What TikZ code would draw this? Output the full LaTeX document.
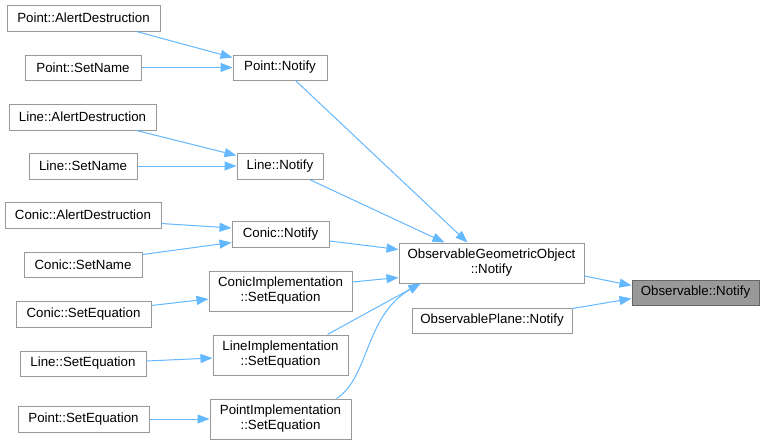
\documentclass[tikz,border=0pt]{standalone}
\usepackage{fontspec}
\setmainfont{Liberation Sans}
\usetikzlibrary{arrows.meta,calc}
\definecolor{edgec}{HTML}{63B8FF}
\definecolor{bord}{HTML}{999999}
\definecolor{hbord}{HTML}{666666}
\definecolor{hfill}{HTML}{999999}
\begin{document}
\begin{tikzpicture}[x=1pt,y=-1pt,
 box/.style={draw=bord, line width=1pt, fill=white, inner sep=0pt, align=center,
   font=\fontsize{13.3}{15}\selectfont},
 hbox/.style={box, draw=hbord, fill=hfill},
 edge/.style={draw=edgec, line width=1pt, -{Triangle[length=12pt,width=9pt]}}]
\useasboundingbox (0,0) rectangle (764,445);
\fill[white] (0,0) rectangle (764,445);

\node[box, minimum width=153pt, minimum height=26pt] (pad) at (83.5,18) {Point::AlertDestruction};
\node[box, minimum width=116pt, minimum height=25pt] (psn) at (83,67.5) {Point::SetName};
\node[box, minimum width=94pt, minimum height=25pt] (pn) at (280,67.5) {Point::Notify};
\node[box, minimum width=147pt, minimum height=26pt] (lad) at (82.5,117) {Line::AlertDestruction};
\node[box, minimum width=108pt, minimum height=26pt] (lsn) at (83,166) {Line::SetName};
\node[box, minimum width=86pt, minimum height=26pt] (ln) at (280,166) {Line::Notify};
\node[box, minimum width=156pt, minimum height=26pt] (cad) at (83,215) {Conic::AlertDestruction};
\node[box, minimum width=97pt, minimum height=26pt] (cn) at (280.5,234) {Conic::Notify};
\node[box, minimum width=118pt, minimum height=25pt] (csn) at (83,264.5) {Conic::SetName};
\node[box, minimum width=143pt, minimum height=40pt] (cise) at (280.5,291) {ConicImplementation\\::SetEquation};
\node[box, minimum width=135pt, minimum height=26pt] (cse) at (83.5,314) {Conic::SetEquation};
\node[box, minimum width=135pt, minimum height=40pt] (lise) at (280.5,355) {LineImplementation\\::SetEquation};
\node[box, minimum width=126pt, minimum height=25pt] (lse) at (83,363.5) {Line::SetEquation};
\node[box, minimum width=141pt, minimum height=40pt] (pise) at (280.5,419) {PointImplementation\\::SetEquation};
\node[box, minimum width=131pt, minimum height=26pt] (pse) at (83.5,419) {Point::SetEquation};
\node[box, minimum width=185pt, minimum height=40pt] (ogo) at (491.5,263) {ObservableGeometricObject\\::Notify};
\node[hbox, minimum width=127pt, minimum height=25pt] (on) at (695.5,292.5) {Observable::Notify};
\node[box, minimum width=160pt, minimum height=25pt] (opn) at (492,320.5) {ObservablePlane::Notify};

\draw[edge] ($(pad.south west)+(130,0)$) -- ($(pn.north west)+(0,3)$);
\draw[edge] (psn.east) -- (pn.west);
\draw[edge] ($(lad.south west)+(128,0)$) -- ($(ln.north west)+(0,3)$);
\draw[edge] (lsn.east) -- (ln.west);
\draw[edge] ($(cad.south east)+(0,-5)$) -- ($(cn.west)+(0,-6)$);
\draw[edge] ($(csn.north east)+(0,3)$) -- ($(cn.south west)+(0,-5)$);
\draw[edge] ($(cse.north east)+(0,5)$) -- ($(cise.west)+(0,8)$);
\draw[edge] ($(lse.east)+(0,-2.5)$) -- ($(lise.west)+(0,3)$);
\draw[edge] (pse.east) -- (pise.west);
\draw[edge] ($(pn.south west)+(63,0)$) -- ($(ogo.north west)+(69,0)$);
\draw[edge] ($(ln.south west)+(73,0)$) -- ($(ogo.north west)+(46,0)$);
\draw[edge] ($(cn.east)+(0,7)$) -- ($(ogo.north west)+(0,7)$);
\draw[edge] ($(cise.east)+(0,-9)$) -- ($(ogo.south west)+(0,-6)$);
\draw[edge] ($(lise.north west)+(115,0)$) .. controls +(27,-15) and +(-31,17) .. ($(ogo.south west)+(22,0)$);
\draw[edge] ($(pise.north west)+(127,0)$) .. controls +(33,-21) and +(-56,32) .. ($(ogo.south west)+(22,0)$);
\draw[edge] ($(ogo.east)+(0,13)$) -- ($(on.west)+(0,-7)$);
\draw[edge] ($(opn.north east)+(0,1)$) -- ($(on.west)+(0,6)$);
\end{tikzpicture}
\end{document}
